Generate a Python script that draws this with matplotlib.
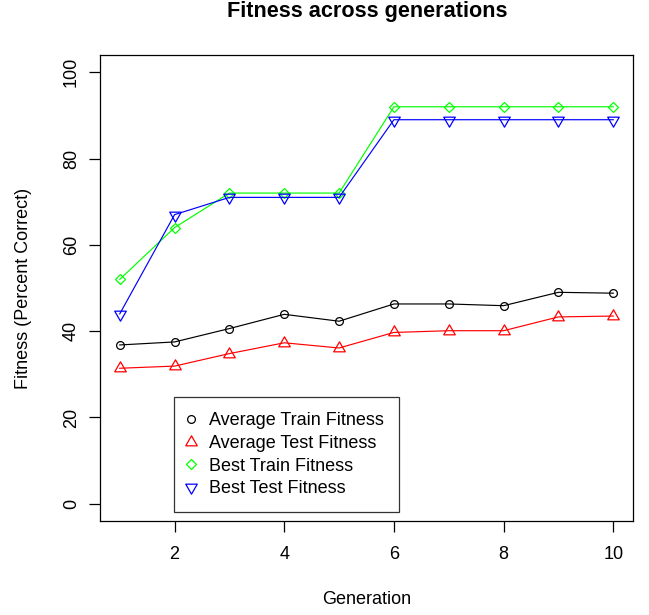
import matplotlib
matplotlib.use("Agg")
import matplotlib.pyplot as plt
from matplotlib.lines import Line2D
from matplotlib.path import Path

generations = [1, 2, 3, 4, 5, 6, 7, 8, 9, 10]
avg_train = [36.8, 37.5, 40.6, 43.9, 42.3, 46.3, 46.3, 45.9, 49.0, 48.8]
avg_test = [31.4, 31.9, 34.8, 37.3, 36.1, 39.7, 40.1, 40.1, 43.3, 43.5]
best_train = [52, 64, 72, 72, 72, 92, 92, 92, 92, 92]
best_test = [44, 67, 71, 71, 71, 89, 89, 89, 89, 89]
labels = ["Average Train Fitness", "Average Test Fitness", "Best Train Fitness", "Best Test Fitness"]
x_ticks = [2, 4, 6, 8, 10]
y_ticks = [0, 20, 40, 60, 80, 100]

plt.rcParams['font.family'] = ['Liberation Sans', 'DejaVu Sans']
W, H = 649, 615
fig = plt.figure(figsize=(W / 100, H / 100), dpi=100)
L, R, T, B = 100, 633, 55, 521
ax = fig.add_axes([L / W, 1 - B / H, (R - L) / W, (B - T) / H])

# R-style triangles: centroid at the data point
tri_up = Path([(0, 1.5551), (1.3468, -0.7776), (-1.3468, -0.7776), (0, 1.5551)],
              [Path.MOVETO, Path.LINETO, Path.LINETO, Path.CLOSEPOLY])
tri_down = Path([(0, -1.5551), (1.3468, 0.7776), (-1.3468, 0.7776), (0, -1.5551)],
                [Path.MOVETO, Path.LINETO, Path.LINETO, Path.CLOSEPOLY])

series = [
    (avg_train, 'black', 'o', 5.6),
    (avg_test, '#FF0000', tri_up, 9.6),
    (best_train, '#00FF00', 'D', 5.5),
    (best_test, '#0000FF', tri_down, 9.6),
]
handles = []
for vals, col, mk, ms in series:
    ax.plot(generations, vals, color=col, marker=mk, markersize=ms,
            markerfacecolor='none', markeredgecolor=col, linewidth=0.85,
            markeredgewidth=0.9)
    handles.append(Line2D([], [], color=col, marker=mk, markersize=ms,
                          markerfacecolor='none', markeredgecolor=col,
                          linestyle='none', markeredgewidth=0.9))

ax.set_xlim(0.64, 10.36)
ax.set_ylim(-4, 104)
ax.set_xticks(x_ticks)
ax.set_yticks(y_ticks)
ax.tick_params(axis='both', direction='out', length=8, width=0.9, labelsize=13, color='black')
ax.tick_params(axis='x', pad=10)
ax.tick_params(axis='y', pad=6.5)
for lab in ax.get_yticklabels():
    lab.set_rotation(90)
    lab.set_va('center')
for s in ax.spines.values():
    s.set_linewidth(0.9)
    s.set_color('black')

ax.set_xlabel("Generation", fontsize=13, va='center')
ax.xaxis.set_label_coords(0.5, -(600 - B) / (B - T))
ax.set_ylabel("Fitness (Percent Correct)", fontsize=13, va='center')
ax.yaxis.set_label_coords(-(L - 24) / (R - L), 0.5)

fig.text(367 / W, 1 - 11.5 / H, "Fitness across generations", fontsize=15.6,
         fontweight='bold', ha='center', va='center')

leg = ax.legend(handles, labels, loc='upper left',
                bbox_to_anchor=((174 - L) / (R - L), (B - 397) / (B - T)),
                borderaxespad=0, fontsize=13, frameon=True, fancybox=False,
                handlelength=0.15, handletextpad=0.95, labelspacing=0.31,
                borderpad=0.85)
leg.get_frame().set_edgecolor('black')
leg.get_frame().set_linewidth(0.9)

fig.savefig("out.png", dpi=100)
